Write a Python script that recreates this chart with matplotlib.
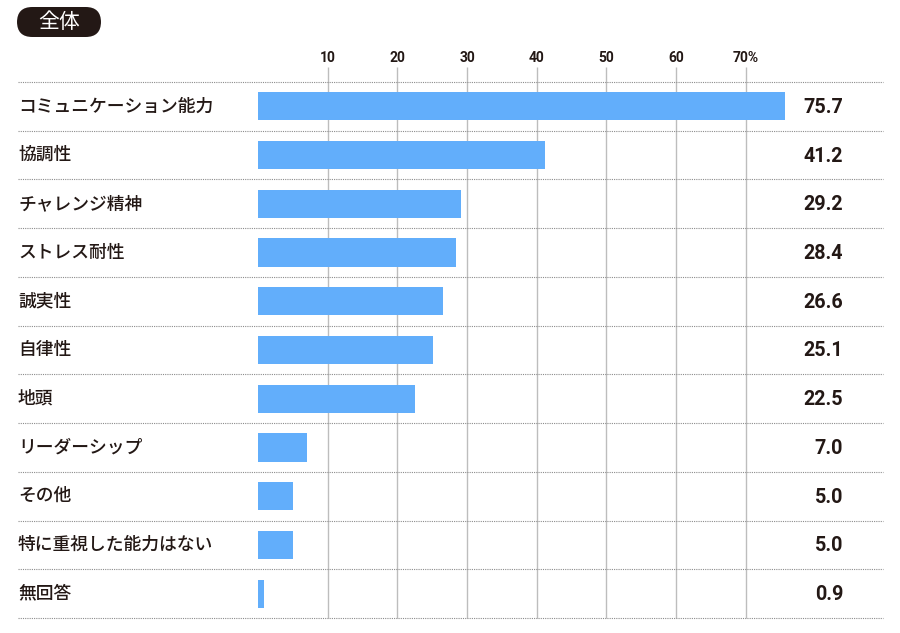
import matplotlib
matplotlib.use('Agg')
import matplotlib.pyplot as plt
from matplotlib.patches import FancyBboxPatch

plt.rcParams['font.family'] = ['Noto Sans CJK JP', 'DejaVu Sans']

# Data
categories = ['コミュニケーション能力', '協調性', 'チャレンジ精神', 'ストレス耐性', '誠実性',
              '自律性', '地頭', 'リーダーシップ', 'その他', '特に重視した能力はない', '無回答']
values = [75.7, 41.2, 29.2, 28.4, 26.6, 25.1, 22.5, 7.0, 5.0, 5.0, 0.9]
ticks = [10, 20, 30, 40, 50, 60, 70]
tick_labels = ['10', '20', '30', '40', '50', '60', '70%']

bar_color = '#62aefb'
text_color = '#231815'

W, H = 900, 633
fig = plt.figure(figsize=(9, 6.33), dpi=100)

# axes spans the table area (pixels 18..883 horizontally, 82..618 vertically)
left_px, right_px, top_px, bot_px = 18, 883, 82, 618
zero_px = 258
px_per_unit = (746 - 328) / 60.0
ax = fig.add_axes([left_px / W, 1 - bot_px / H, (right_px - left_px) / W, (bot_px - top_px) / H])
x0 = -(zero_px - left_px) / px_per_unit
x1 = (right_px - zero_px) / px_per_unit
ax.set_xlim(x0, x1)
n = len(categories)
ax.set_ylim(n, 0)
ax.axis('off')

# vertical grid lines
ax.vlines(ticks, -0.3, n, color='#bdbdbd', linewidth=1, clip_on=False, zorder=1)
for t, lab in zip(ticks, tick_labels):
    ax.text(t, -0.5, lab, ha='center', va='center', fontsize=10, fontweight='bold',
            color=text_color, family=['Roboto', 'DejaVu Sans'])

# dotted row separators
for i in range(n + 1):
    ax.plot([x0, x1], [i, i], color='#8c8c8c', linewidth=0.8, linestyle=(0, (1, 1)),
            clip_on=False, zorder=1)

ys = [i + 0.5 for i in range(n)]
ax.barh(ys, values, height=0.58, left=0, color=bar_color, zorder=2)

value_x = (843 - zero_px) / px_per_unit
for y, cat, v in zip(ys, categories, values):
    ax.text(x0, y, cat, ha='left', va='center', fontsize=12.8, fontweight='medium',
            color=text_color)
    ax.text(value_x, y + 0.02, f'{v:.1f}', ha='right', va='center', fontsize=14.2,
            fontweight='bold', color=text_color, family=['Roboto', 'DejaVu Sans'])

# title badge
badge = FancyBboxPatch((17 / W, 1 - 37 / H), (101 - 17) / W, 30 / H,
                       boxstyle='round,pad=0,rounding_size=0.017',
                       transform=fig.transFigure, facecolor='#231815', edgecolor='none',
                       mutation_aspect=W / H)
fig.patches.append(badge)
fig.text(59 / W, 1 - 22.5 / H, '全体', ha='center', va='center', fontsize=15, color='white')

fig.savefig('out.png', dpi=100)
